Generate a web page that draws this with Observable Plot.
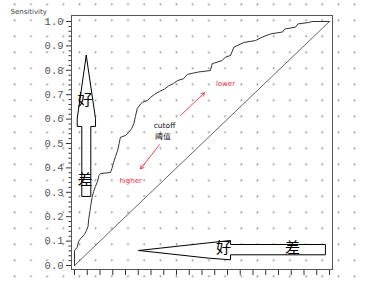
<!DOCTYPE html>
<html><head><meta charset="utf-8">
<script src="https://cdn.jsdelivr.net/npm/d3@7"></script>
<script src="https://cdn.jsdelivr.net/npm/@observablehq/plot@0.6"></script>
<style>
html,body{margin:0;padding:0;background:#fff;}
#chart{width:366px;height:281px;
 background-image:radial-gradient(circle, #9a9a9a 0.8px, rgba(255,255,255,0) 1.2px);
 background-size:16.2px 16px;background-position:6.6px -3.7px;}
</style></head>
<body><div id="chart"></div>
<script>
// ROC curve (1 - specificity, sensitivity)
const fpr = [0,0,0.010,0.016,0.024,0.039,0.047,0.053,0.056,0.061,0.063,0.069,0.075,0.082,0.090,0.096,0.102,0.141,0.147,0.153,0.161,0.169,0.175,0.180,0.200,0.212,0.224,0.233,0.239,0.246,0.259,0.267,0.286,0.298,0.314,0.333,0.353,0.369,0.388,0.404,0.427,0.443,0.467,0.486,0.533,0.540,0.579,0.592,0.612,0.625,0.664,0.710,0.736,0.769,0.816,0.824,0.867,0.876,0.919,0.932,1.0];
const tpr = [0,0.061,0.074,0.098,0.111,0.127,0.143,0.160,0.193,0.225,0.242,0.279,0.303,0.324,0.344,0.369,0.377,0.381,0.398,0.422,0.447,0.471,0.500,0.525,0.533,0.545,0.561,0.582,0.611,0.643,0.662,0.669,0.676,0.689,0.701,0.713,0.723,0.736,0.746,0.758,0.765,0.783,0.789,0.793,0.799,0.827,0.840,0.854,0.861,0.895,0.914,0.922,0.936,0.949,0.957,0.969,0.977,0.990,0.996,1.0,1.0];
const diagX = [0, 1];
const diagY = [0, 1];
// axis ticks
const yTicks = [0,0.1,0.2,0.3,0.4,0.5,0.6,0.7,0.8,0.9,1.0];
const yMinor = [0.02,0.04,0.06,0.08,0.12,0.14,0.16,0.18,0.22,0.24,0.26,0.28,0.32,0.34,0.36,0.38,0.42,0.44,0.46,0.48,0.52,0.54,0.56,0.58,0.62,0.64,0.66,0.68,0.72,0.74,0.76,0.78,0.82,0.84,0.86,0.88,0.92,0.94,0.96,0.98];
const xTicks = [0,0.05,0.1,0.15,0.2,0.25,0.3,0.35,0.4,0.45,0.5,0.55,0.6,0.65,0.7,0.75,0.8,0.85,0.9,0.95,1.0];
// annotation: hollow block arrows (outline vertices in data units)
const vArrowX = [0.046,0.0106,0.0106,0.0286,0.0286,0.0639,0.0639,0.0824,0.0824,0.046];
const vArrowY = [0.861,0.602,0.570,0.570,0.283,0.283,0.570,0.570,0.602,0.861];
const hArrowX = [0.252,0.527,0.612,0.612,0.984,0.984,0.612,0.612,0.527,0.252];
const hArrowY = [0.0615,0.093,0.1025,0.086,0.086,0.0439,0.0439,0.0234,0.030,0.0615];
const arrowWords = ["好","差","好","差"];
const arrowWordX = [0.041,0.041,0.584,0.855];
const arrowWordY = [0.676,0.348,0.070,0.070];
// red direction arrows
const redX1 = [0.416,0.333], redY1 = [0.615,0.495];
const redX2 = [0.510,0.259], redY2 = [0.708,0.396];
const redLabels = ["lower","higher"];
const redLabelX = [0.592,0.220], redLabelY = [0.745,0.348];
const cutLabels = ["cutoff","阈值"];
const cutX = [0.353,0.347], cutY = [0.574,0.529];

const roc = fpr.map((x,i)=>({x, y: tpr[i]}));
const diag = diagX.map((x,i)=>({x, y: diagY[i]}));
const vArrow = vArrowX.map((x,i)=>({x, y: vArrowY[i]}));
const hArrow = hArrowX.map((x,i)=>({x, y: hArrowY[i]}));
const words = arrowWords.map((t,i)=>({t, x: arrowWordX[i], y: arrowWordY[i]}));
const reds = redX1.map((x1,i)=>({x1, y1: redY1[i], x2: redX2[i], y2: redY2[i]}));
const redText = redLabels.map((t,i)=>({t, x: redLabelX[i], y: redLabelY[i]}));
const cutText = cutLabels.map((t,i)=>({t, x: cutX[i], y: cutY[i]}));

const chart = Plot.plot({
  width: 366, height: 281,
  marginLeft: 71, marginRight: 34, marginTop: 15, marginBottom: 12,
  style: "background: transparent; overflow: visible;",
  x: {domain: [-0.0118, 1.0118]},
  y: {domain: [-0.0164, 1.0246]},
  marks: [
    Plot.axisX({ticks: xTicks, tickSize: 6, tickFormat: () => "", stroke: "#333"}),
    Plot.axisY({ticks: yMinor, tickSize: 2.5, tickFormat: () => "", stroke: "#333"}),
    Plot.axisY({ticks: yTicks, tickSize: 5, tickPadding: 3, tickFormat: d3.format(".1f"), stroke: "#333",
      fontFamily: "Liberation Mono", fontSize: 10.5, fill: "#555", label: null}),
    Plot.frame({stroke: "#555"}),
    Plot.line(diag, {x: "x", y: "y", stroke: "#555", strokeWidth: 0.9}),
    Plot.line(roc, {x: "x", y: "y", stroke: "#333", strokeWidth: 1}),
    Plot.line(vArrow, {x: "x", y: "y", stroke: "#000", fill: "white", strokeWidth: 1, curve: "linear"}),
    Plot.line(hArrow, {x: "x", y: "y", stroke: "#000", fill: "white", strokeWidth: 1, curve: "linear"}),
    Plot.text(words, {x: "x", y: "y", text: "t", fontFamily: "Noto Sans CJK SC", fontSize: 15, fill: "#000"}),
    Plot.arrow(reds, {x1: "x1", y1: "y1", x2: "x2", y2: "y2", stroke: "#ee3344", strokeWidth: 0.9, headLength: 6}),
    Plot.text(redText, {x: "x", y: "y", text: "t", fill: "#ee3344", fontFamily: "DejaVu Sans", fontSize: 7}),
    Plot.text(cutText, {x: "x", y: "y", text: "t", fill: "#111", fontFamily: "DejaVu Sans", fontSize: 7.5}),
    Plot.text(["Sensitivity"], {frameAnchor: "top-left", text: d => d, dx: -61, dy: -6, fill: "#444", fontFamily: "DejaVu Sans", fontSize: 7})
  ]
});
document.getElementById("chart").appendChild(chart);
</script></body></html>
